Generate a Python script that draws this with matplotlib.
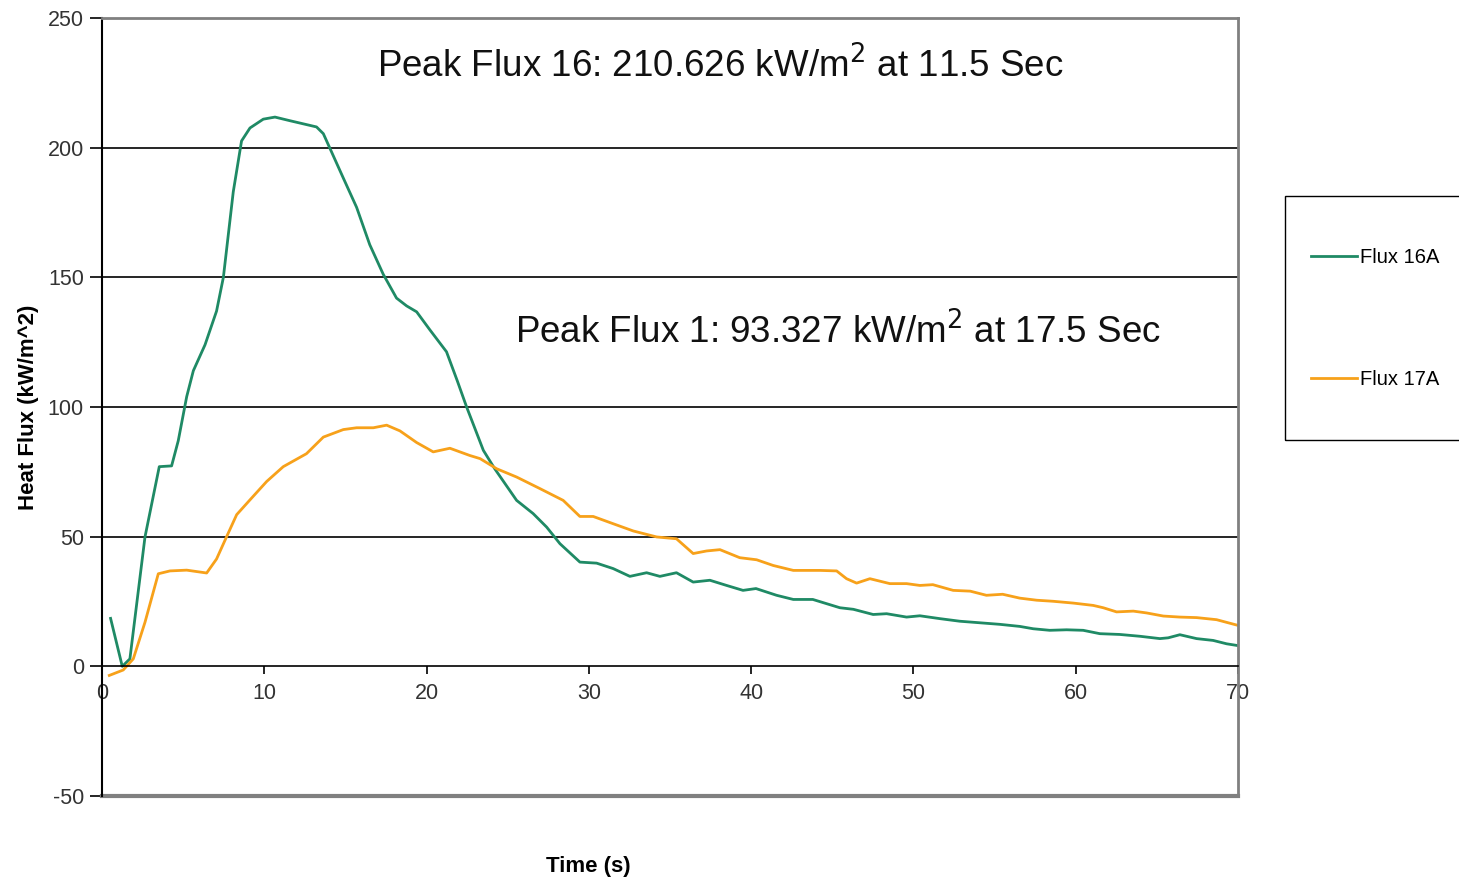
import numpy as np
import matplotlib.pyplot as plt
from matplotlib.patches import Rectangle

plt.rcParams['font.family'] = ['Liberation Sans', 'DejaVu Sans']
plt.rcParams['axes.unicode_minus'] = False

# Flux 16A (green)
t16 = [0.53, 1.25, 1.72, 2.65, 3.53, 4.29, 4.7, 5.22, 5.63, 6.35, 7.06, 7.48, 8.09, 8.6,
       9.12, 9.94, 10.66, 11.58, 13.22, 13.64, 14.05, 14.87, 15.69, 16.5, 17.33, 18.15,
       18.77, 19.39, 20.2, 21.23, 21.9, 22.47, 23.5, 24.2, 25.55, 26.57, 27.4, 28.22,
       29.45, 30.48, 31.5, 32.53, 33.56, 34.38, 35.4, 36.43, 37.46, 38.49, 39.5, 40.3,
       41.57, 42.6, 43.8, 45.0, 45.47, 46.3, 47.52, 48.35, 49.58, 50.4, 51.63, 52.86,
       54.1, 55.33, 56.56, 57.38, 58.4, 59.44, 60.46, 61.49, 62.72, 63.96, 65.19, 65.7,
       66.42, 67.45, 68.47, 69.3, 70.0]
f16 = [18.5, 0.0, 2.9, 49.9, 77.0, 77.3, 87.0, 104.0, 114.0, 124.0, 137.0, 150.0, 183.0,
       202.6, 207.6, 211.0, 211.8, 210.4, 208.0, 205.4, 199.7, 188.3, 177.0, 162.6, 151.2,
       142.0, 139.0, 136.7, 129.8, 121.3, 110.0, 100.0, 83.3, 76.2, 64.0, 58.9, 53.7, 47.3,
       40.2, 39.8, 37.7, 34.7, 36.1, 34.7, 36.1, 32.5, 33.2, 31.2, 29.3, 30.0,
       27.4, 25.8, 25.8, 23.5, 22.6, 22.0, 20.0, 20.3, 19.0, 19.5, 18.4, 17.4,
       16.8, 16.2, 15.4, 14.5, 13.9, 14.1, 13.9, 12.6, 12.3, 11.6, 10.7, 11.0,
       12.2, 10.7, 10.0, 8.7, 8.0]

# Flux 17A (orange)
t17 = [0.45, 1.31, 1.93, 2.65, 3.47, 4.19, 5.22, 6.45, 7.06, 7.68, 8.3, 9.12, 10.15,
       11.17, 12.6, 13.64, 14.87, 15.69, 16.72, 17.54, 18.36, 19.39, 20.41, 21.44, 22.67,
       23.3, 24.32, 25.55, 27.0, 28.42, 29.45, 30.27, 31.5, 32.74, 34.18, 35.4, 36.43,
       37.26, 38.08, 39.3, 40.34, 41.36, 42.6, 44.24, 45.27, 45.88, 46.5, 47.32, 48.55,
       49.58, 50.4, 51.2, 52.45, 53.5, 54.5, 55.5, 56.56, 57.6, 58.6, 59.85, 61.08, 61.7,
       62.52, 63.55, 64.37, 65.4, 66.42, 67.45, 68.68, 70.0]
f17 = [-3.5, -1.4, 2.9, 17.0, 35.7, 36.8, 37.1, 36.0, 41.4, 50.0, 58.5, 64.2, 71.3,
       77.0, 82.0, 88.4, 91.3, 92.0, 92.0, 93.0, 90.8, 86.3, 82.7, 84.1, 81.3,
       80.1, 76.2, 73.0, 68.5, 64.0, 57.8, 57.8, 55.0, 52.2, 49.9, 49.2, 43.5,
       44.5, 45.0, 41.9, 41.1, 38.9, 37.0, 37.0, 36.8, 33.8, 32.1, 33.8, 31.9,
       31.9, 31.2, 31.5, 29.3, 29.0, 27.4, 27.8, 26.3, 25.5, 25.1, 24.4, 23.5, 22.6,
       21.0, 21.3, 20.6, 19.4, 19.0, 18.8, 18.0, 15.8]

green = '#1f8a65'
orange = '#f7a11a'

fig = plt.figure(figsize=(14.59, 8.83), dpi=100)
ax = fig.add_axes([0.0699, 0.0985, 0.7786, 0.8811])

ax.plot(t16, f16, color=green, lw=2, label='Flux 16A')
ax.plot(t17, f17, color=orange, lw=2, label='Flux 17A')

ax.set_xlim(0, 70)
ax.set_ylim(-50, 250)
ax.set_yticks([-50, 0, 50, 100, 150, 200, 250])
ax.set_xticks([0, 10, 20, 30, 40, 50, 60, 70])

for y in [50, 100, 150, 200]:
    ax.axhline(y, color='black', lw=1.2, zorder=0)

# x axis sits on y = 0
ax.spines['bottom'].set_position(('data', 0))
ax.spines['bottom'].set_color('black')
ax.spines['bottom'].set_linewidth(1.2)
ax.spines['left'].set_color('black')
ax.spines['left'].set_linewidth(1.5)
for s in ['top', 'right']:
    ax.spines[s].set_color('#808080')
    ax.spines[s].set_linewidth(2)
ax.axhline(-50, color='#808080', lw=3, clip_on=False)

ax.tick_params(axis='x', direction='out', length=6, width=1.2, pad=6,
               labelsize=15.5, labelcolor='#333333')
ax.tick_params(axis='y', direction='out', length=9, width=1.2, pad=4,
               labelsize=15.5, labelcolor='#333333')

ax.set_ylabel('Heat Flux (kW/m^2)', fontsize=16, fontweight='bold', labelpad=6)
ax.text(0.428, -0.09, 'Time (s)', transform=ax.transAxes, ha='center', va='center',
        fontsize=16, fontweight='bold')

ax.text(0.544, 0.938, 'Peak Flux 16: 210.626 kW/m$^2$ at 11.5 Sec', transform=ax.transAxes,
        ha='center', va='center', fontsize=26.5, color='#111111')
ax.text(0.648, 0.597, 'Peak Flux 1: 93.327 kW/m$^2$ at 17.5 Sec', transform=ax.transAxes,
        ha='center', va='center', fontsize=26.5, color='#111111')

# legend box, cut by the right edge as in the original
fig.patches.append(Rectangle((1285 / 1459, 1 - 440 / 883), 200 / 1459, 244 / 883,
                             transform=fig.transFigure, fill=False,
                             edgecolor='black', lw=1))
leg = fig.legend(loc='upper left', bbox_to_anchor=(1311 / 1459, 1 - 248 / 883),
                 fontsize=14.5, frameon=False, handlelength=2.3,
                 handletextpad=0.12, labelspacing=5.1, borderpad=0,
                 borderaxespad=0)

fig.savefig('out.png', dpi=100, facecolor='white')
